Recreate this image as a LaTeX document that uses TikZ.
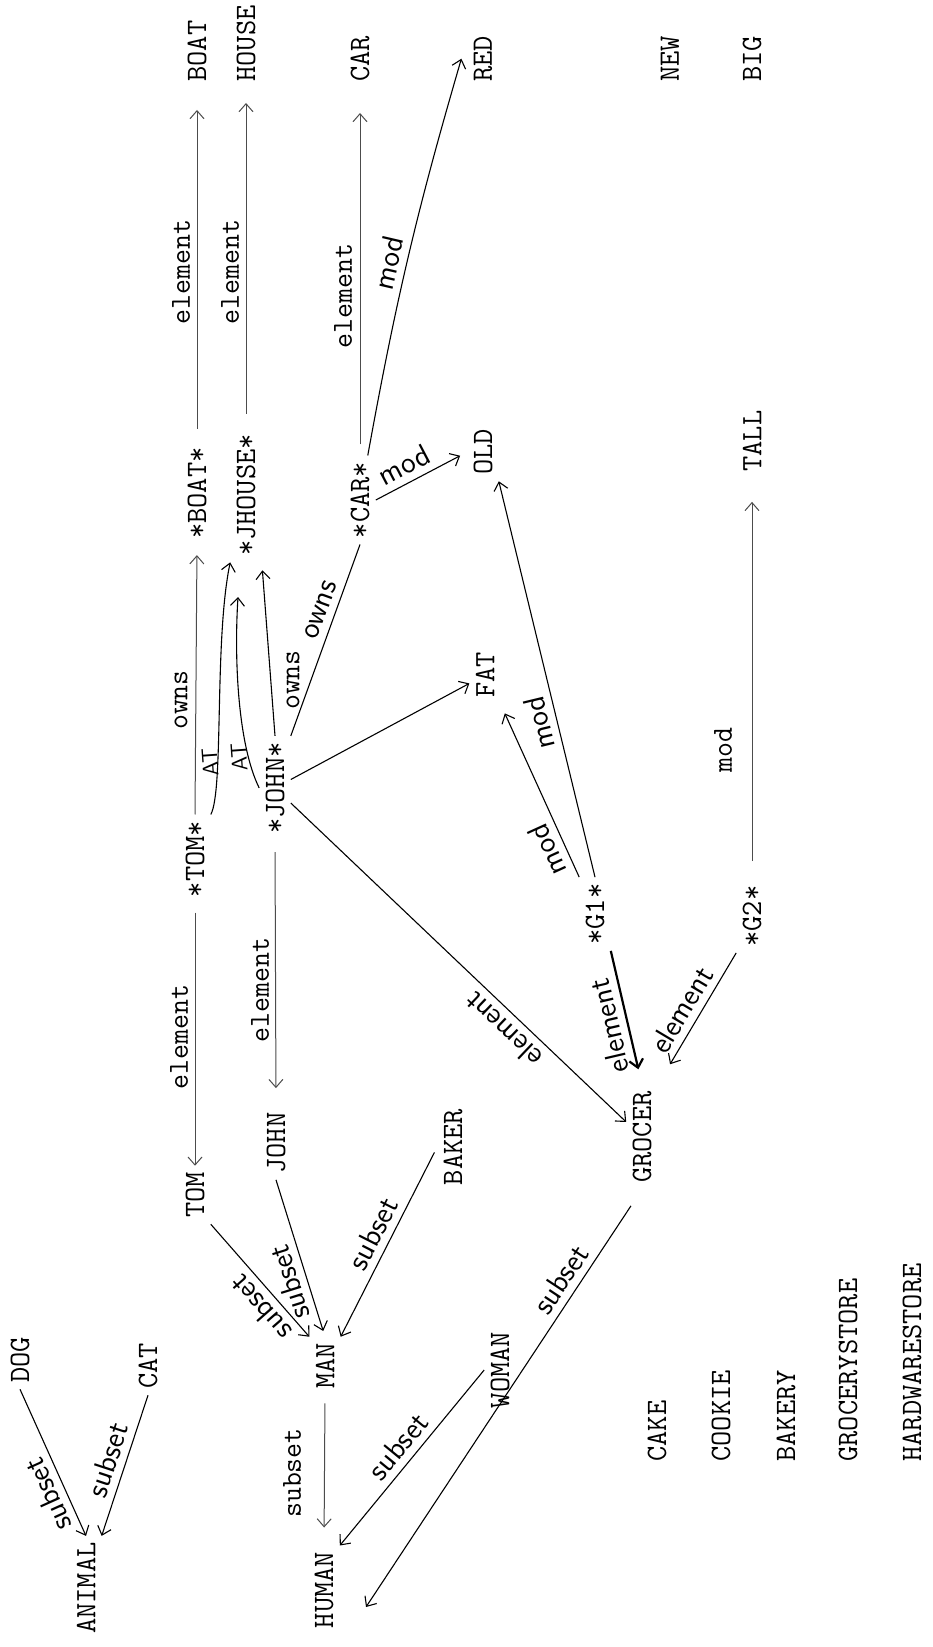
\documentclass[tikz,border=0pt]{standalone}
\usetikzlibrary{arrows.meta,calc}
\begin{document}
\begin{tikzpicture}[x=0.5pt,y=-0.5pt,
  tnode/.style={rotate=90,inner sep=3pt,font=\ttfamily\fontsize{14.8}{16}\selectfont},
  tlab/.style={rotate=90,inner sep=1pt,font=\ttfamily\fontsize{14.5}{16}\selectfont},
  hlab/.style={inner sep=3.5pt,font=\sffamily\fontsize{15}{16}\selectfont,sloped,allow upside down},
  atlab/.style={inner sep=1pt,rotate=94,font=\sffamily\fontsize{11}{12}\selectfont},
  tline/.style={draw=black!70,line width=0.5pt},
  hline/.style={draw=black,line width=0.55pt},
  >={Straight Barb[length=4pt,width=7pt]}]
\fill[white] (0,0) rectangle (932,1647);
\useasboundingbox (0,0) rectangle (932,1647);

% top row of class and property names
\node[tnode,anchor=west] (BOAT)  at (197,88) {BOAT};
\node[tnode,anchor=west] (HOUSE) at (246,88) {HOUSE};
\node[tnode,anchor=west] (CAR)   at (360,88) {CAR};
\node[tnode,anchor=west] (RED)   at (483,88) {RED};
\node[tnode,anchor=west] (NEW)   at (670,88) {NEW};
\node[tnode,anchor=west] (BIG)   at (752,88) {BIG};

% instances
\node[tnode] (sBOAT)   at (197,493) {*BOAT*};
\node[tnode] (sJHOUSE) at (246,495) {*JHOUSE*};
\node[tnode] (sCAR)    at (360,500) {*CAR*};
\node[tnode] (OLD)     at (483,452) {OLD};
\node[tnode] (TALL)    at (752,441) {TALL};
\node[tnode] (FAT)     at (485,675) {FAT};
\node[tnode] (sTOM)    at (195,859) {*TOM*};
\node[tnode] (sJOHN)   at (275,788) {*JOHN*};
\node[tnode] (sG1)     at (595,914) {*G1*};
\node[tnode] (sG2)     at (752,916) {*G2*};

% classes
\node[tnode] (TOM)    at (195,1195) {TOM};
\node[tnode] (JOHN)   at (276,1143) {JOHN};
\node[tnode] (BAKER)  at (453,1147) {BAKER};
\node[tnode] (GROCER) at (642,1137) {GROCER};
\node[tnode] (MAN)    at (325,1366) {MAN};
\node[tnode] (WOMAN)  at (500,1370) {WOMAN};
\node[tnode] (HUMAN)  at (324,1590) {HUMAN};
\node[tnode] (ANIMAL) at (86,1588) {ANIMAL};
\node[tnode] (DOG)    at (20,1360) {DOG};
\node[tnode] (CAT)    at (148,1366) {CAT};

% unconnected names
\node[tnode,anchor=west] (CAKE)   at (657,1468) {CAKE};
\node[tnode,anchor=west] (COOKIE) at (721,1468) {COOKIE};
\node[tnode,anchor=west] (BAKERY) at (786,1468) {BAKERY};
\node[tnode,anchor=west] (GSTORE) at (848,1468) {GROCERYSTORE};
\node[tnode,anchor=west] (HSTORE) at (912,1468) {HARDWARESTORE};

\coordinate (atJ)  at (238,597);
\coordinate (gEnd) at (366,1607);

% typed element / owns / subset / mod links
\draw[tline,->,shorten <=6pt,shorten >=11pt] (sBOAT.east) -- (BOAT.west);
\node[tlab] (lbBOAT) at (181,272) {element};
\draw[tline,->,shorten <=7pt,shorten >=7.5pt] (sJHOUSE.east) -- (HOUSE.west);
\node[tlab] (lbHOUSE) at (230,272) {element};
\draw[tline,->,shorten <=5.5pt,shorten >=12.5pt] (sCAR.east) -- (CAR.west);
\node[tlab] (lbCAR) at (343,296) {element};
\draw[tline,->,shorten >=5pt] (sTOM.east) -- (sBOAT.west);
\node[tlab] (lbOwnsT) at (181,700) {owns};
\draw[tline,->,shorten <=4.5pt] (sTOM.west) -- (TOM.east);
\node[tlab] (lbTOM) at (179,1037) {element};
\draw[tline,->,shorten <=6pt,shorten >=9pt] (sJOHN.west) -- (JOHN.east);
\node[tlab] (lbJOHN) at (260,990) {element};
\draw[tline,->,shorten <=4pt,shorten >=9pt] (MAN.west) -- (HUMAN.east);
\node[tlab] (lbMAN) at (292,1473) {subset};
\draw[tline,->,shorten <=9pt,shorten >=12pt] (sG2.east) -- (TALL.west);
\node[tlab] (lbG2) at (723,750) {mod};

% hand-drawn links
\draw[hline,->] (sCAR) to[bend left=3]
  node[hlab,above,pos=0.47] {mod} ($(RED.north)+(-6,0)$);
\draw[hline,->,shorten >=4pt] (sCAR.south) --
  node[hlab,above,pos=0.4] {mod} (OLD.north);
\draw[hline,->] (sTOM.south east) .. controls (224,790) and (214,640) .. (sJHOUSE.north west);
\node[atlab] (lbAT1) at (210,762) {AT};
\draw[hline,->] (sJOHN.north) .. controls (238,745) and (234,660) .. (atJ);
\node[atlab] (lbAT2) at (239,757) {AT};
\draw[hline,->,shorten >=4pt] (sJOHN.east) -- (sJHOUSE.south west);
\node[tlab] (lbOwnsJ) at (293,680) {owns};
\draw[hline] (sJOHN.south east) -- node[hlab,above,pos=0.63] {owns} (sCAR.west);
\draw[hline,->] (sJOHN) -- (FAT);
\draw[hline,<-] (GROCER) -- node[hlab,above,pos=0.33] {element} (sJOHN);
\draw[hline,->,shorten >=5pt] (sG1.north east) -- node[hlab,above,pos=0.2] {mod} (FAT.south west);
\draw[hline,->] (sG1.east) -- node[hlab,above,pos=0.4] {mod} (OLD.south west);
\draw[hline,<-,line width=1.1pt,shorten <=8pt] (GROCER.east) -- node[hlab,above,pos=0.47] {element} (sG1.south west);
\draw[hline,<-,shorten <=12pt] (GROCER.south east) -- node[hlab,above,pos=0.5] {element} (sG2.north west);
\draw[hline,<-] (MAN.north east) -- node[hlab,above,pos=0.36] {subset} (TOM.south west);
\draw[hline,<-,shorten <=3pt] (MAN.east) -- node[hlab,above,pos=0.38] {subset} (JOHN.west);
\draw[hline,<-,shorten >=3pt] (MAN.south east) -- node[hlab,above,pos=0.5] {subset} (BAKER.north);
\draw[hline,<-] (HUMAN.south east) -- node[hlab,above,pos=0.5] {subset} (WOMAN.north);
\draw[hline,<-,shorten >=10pt] (gEnd) -- node[hlab,above,pos=0.76] {subset} (GROCER.west);
\draw[hline,<-] (ANIMAL.east) -- node[hlab,above,pos=0.33] {subset} (DOG.west);
\draw[hline,<-] (ANIMAL.south east) -- node[hlab,above,pos=0.5] {subset} (CAT.west);
\end{tikzpicture}
\end{document}
